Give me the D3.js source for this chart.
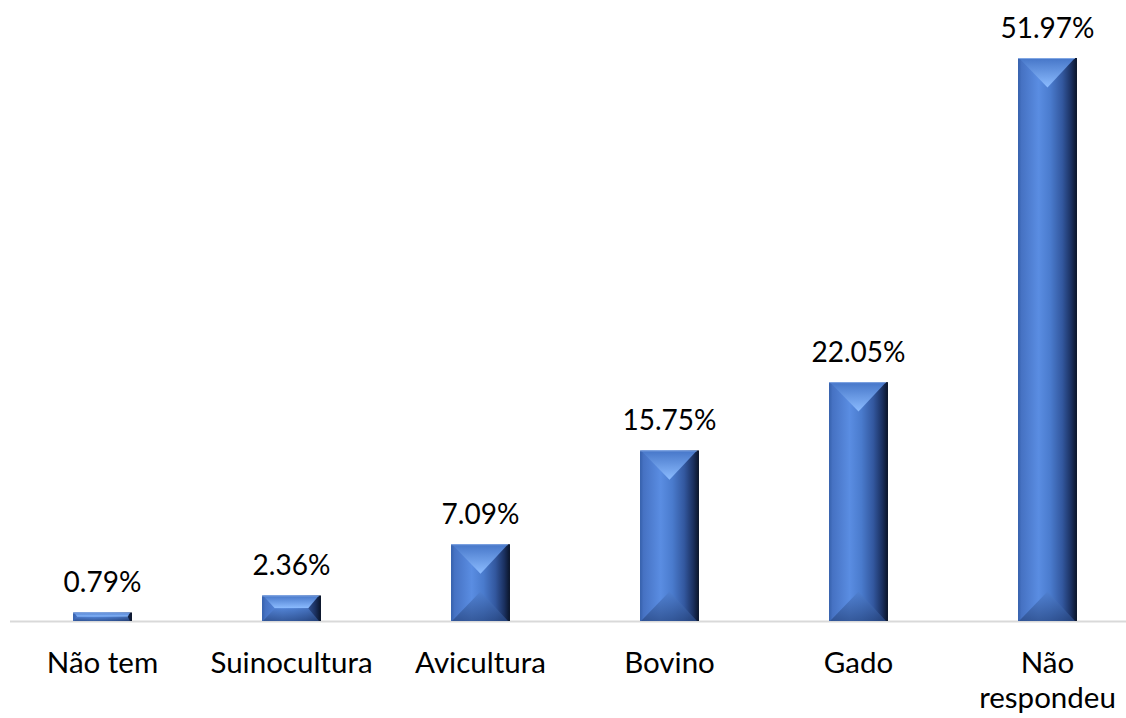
<!DOCTYPE html>
<html>
<head>
<meta charset="utf-8">
<script src="https://cdn.jsdelivr.net/npm/d3@7"></script>
<style>
  html, body { margin: 0; padding: 0; background: #ffffff; }
  svg { display: block; }
  text { font-family: Lato, "Open Sans", sans-serif; fill: #000; }
</style>
</head>
<body>
<svg id="chart" width="1126" height="718"></svg>
<script>
const categories = ["Não tem", "Suinocultura", "Avicultura", "Bovino", "Gado", "Não respondeu"];
const values = [0.79, 2.36, 7.09, 15.75, 22.05, 51.97];
const valueLabels = ["0.79%", "2.36%", "7.09%", "15.75%", "22.05%", "51.97%"];

const svg = d3.select("#chart");
const baseline = 621;

const x = d3.scaleBand().domain(categories).range([8, 1142]).paddingInner(0.688).paddingOuter(0.344);
const y = d3.scaleLinear().domain([0, 51.97]).range([baseline, 58]);

const defs = svg.append("defs");
const side = defs.append("linearGradient").attr("id", "side").attr("x1", 0).attr("x2", 1).attr("y1", 0).attr("y2", 0);
[[0, "#3560ab"], [0.06, "#4672c3"], [0.35, "#5a8de2"], [0.55, "#4a7bcd"], [0.75, "#33589f"], [0.9, "#1b3161"], [1, "#0a1428"]]
  .forEach(([o, c]) => side.append("stop").attr("offset", o).attr("stop-color", c));
const topG = defs.append("linearGradient").attr("id", "topG").attr("x1", 0).attr("x2", 0).attr("y1", 0).attr("y2", 1);
[[0, "#4676c8"], [1, "#8cbcff"]].forEach(([o, c]) => topG.append("stop").attr("offset", o).attr("stop-color", c));
const botG = defs.append("linearGradient").attr("id", "botG").attr("x1", 0).attr("x2", 0).attr("y1", 0).attr("y2", 1);
[[0, "#4f7fcf"], [1, "#2a4a86"]].forEach(([o, c]) => botG.append("stop").attr("offset", o).attr("stop-color", c));

// axis line
svg.append("line").attr("x1", 10).attr("x2", 1126).attr("y1", baseline + 0.5).attr("y2", baseline + 0.5)
  .attr("stroke", "#d9d9d9").attr("stroke-width", 2);

const data = categories.map((c, i) => ({ c, v: values[i], label: valueLabels[i] }));
const g = svg.append("g");
const bars = g.selectAll("g.bar").data(data).join("g").attr("class", "bar");

bars.each(function (d) {
  const sel = d3.select(this);
  const bx = x(d.c), bw = x.bandwidth();
  const by = y(d.v), bh = baseline - by;
  const dd = Math.min(bw / 2, bh / 2);
  sel.append("rect").attr("x", bx).attr("y", by).attr("width", bw).attr("height", bh).attr("fill", "url(#side)");
  sel.append("path").attr("fill", "url(#topG)")
    .attr("d", `M${bx + 1},${by} L${bx + bw - 2},${by} L${bx + bw - dd},${by + dd} L${bx + dd},${by + dd} Z`);
  sel.append("path").attr("fill", "url(#botG)").attr("opacity", 0.75)
    .attr("d", `M${bx + 1},${by + bh} L${bx + bw - 2},${by + bh} L${bx + bw - dd},${by + bh - dd} L${bx + dd},${by + bh - dd} Z`);
  sel.append("line").attr("x1", bx).attr("x2", bx + bw - 2).attr("y1", by + 0.5).attr("y2", by + 0.5)
    .attr("stroke", "#8fb2ea").attr("stroke-width", 1).attr("opacity", 0.8);
});

// value labels
g.selectAll("text.val").data(data).join("text").attr("class", "val")
  .attr("x", d => x(d.c) + x.bandwidth() / 2)
  .attr("y", d => y(d.v) - 20)
  .attr("text-anchor", "middle")
  .attr("font-size", 28)
  .text(d => d.label);

// category labels
const catLines = { "Não respondeu": ["Não", "respondeu"] };
const cl = g.selectAll("text.cat").data(data).join("text").attr("class", "cat")
  .attr("text-anchor", "middle").attr("font-size", 29.5)
  .attr("x", d => x(d.c) + x.bandwidth() / 2)
  .attr("y", 673);
cl.each(function (d) {
  const lines = catLines[d.c] || [d.c];
  d3.select(this).selectAll("tspan").data(lines).join("tspan")
    .attr("x", x(d.c) + x.bandwidth() / 2)
    .attr("dy", (l, i) => i === 0 ? 0 : 35)
    .text(l => l);
});
</script>
</body>
</html>
